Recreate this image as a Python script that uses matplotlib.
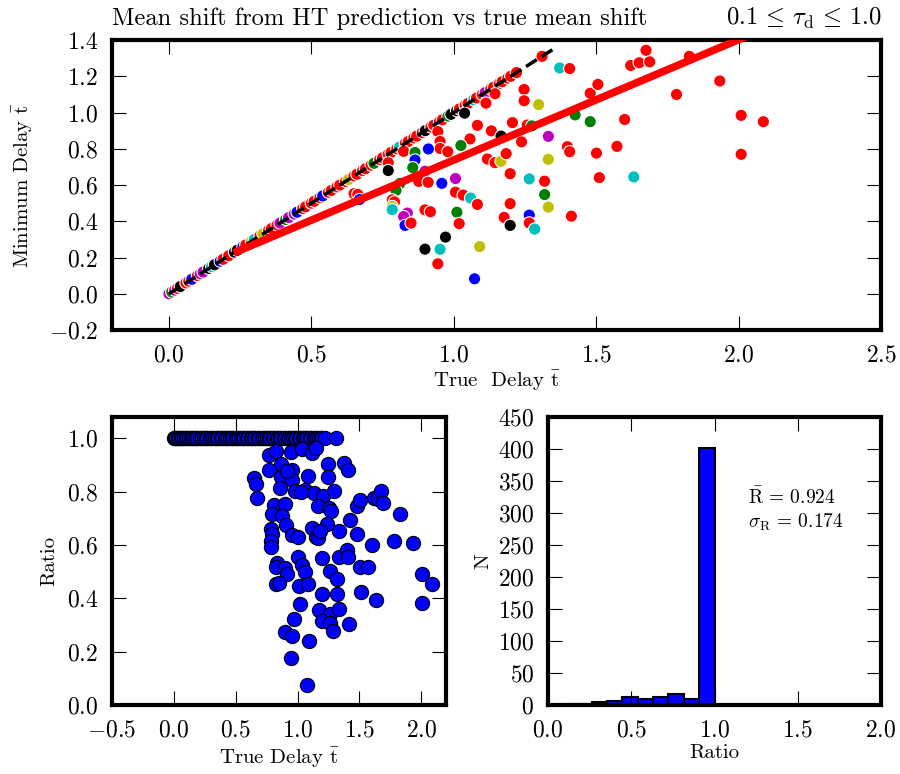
import numpy as np
import matplotlib
matplotlib.use("Agg")
from matplotlib import pyplot as plt

plt.rcParams['font.family'] = 'serif'
plt.rcParams['font.serif'] = ['cmr10']
plt.rcParams['mathtext.fontset'] = 'cm'
plt.rcParams['axes.formatter.use_mathtext'] = True

# runs where the HT minimum delay equals the true delay (ratio = 1)
diag_delay = [0.00, 0.01, 0.02, 0.03, 0.04, 0.06, 0.07, 0.08, 0.10, 0.11,
              0.12, 0.14, 0.15, 0.16, 0.18, 0.19, 0.21, 0.23, 0.24, 0.26,
              0.27, 0.29, 0.30, 0.32, 0.33, 0.35, 0.36, 0.38, 0.39, 0.41,
              0.42, 0.44, 0.45, 0.47, 0.48, 0.50, 0.51, 0.53, 0.54, 0.56,
              0.57, 0.59, 0.60, 0.62, 0.63, 0.65, 0.66, 0.68, 0.69, 0.71,
              0.72, 0.74, 0.75, 0.77, 0.78, 0.80, 0.81, 0.83, 0.84, 0.86,
              0.87, 0.89, 0.90, 0.92, 0.93, 0.95, 0.96, 0.98, 0.99, 1.01,
              1.02, 1.04, 1.05, 1.07, 1.08, 1.10, 1.11, 1.13, 1.14, 1.16,
              1.17, 1.19, 1.20, 1.22, 1.31]
diag_colors = ['m', 'g', 'm', 'r', 'k', 'r', 'r', 'b', 'r', 'm',
               'm', 'k', 'c', 'k', 'b', 'r', 'r', 'k', 'k', 'b',
               'r', 'y', 'c', 'r', 'y', 'r', 'r', 'r', 'm', 'g',
               'm', 'm', 'b', 'r', 'r', 'r', 'r', 'r', 'b', 'r',
               'r', 'r', 'r', 'r', 'y', 'r', 'r', 'r', 'r', 'r',
               'g', 'r', 'r', 'r', 'r', 'r', 'c', 'r', 'r', 'r',
               'r', 'r', 'k', 'r', 'r', 'r', 'r', 'g', 'k', 'k',
               'r', 'r', 'r', 'c', 'r', 'r', 'm', 'r', 'r', 'r',
               'r', 'r', 'r', 'r', 'r']

# runs where the HT prediction falls short of the true delay
true_delay = [0.770, 0.824, 0.944, 1.038, 1.113, 1.145, 0.864, 0.952,
              0.770, 1.247, 1.372, 1.407, 0.650, 0.663, 0.864, 0.952,
              1.083, 1.247, 0.669, 0.856, 0.979, 1.057, 1.132, 1.206,
              1.298, 0.811, 0.899, 1.166, 1.258, 1.274, 0.797, 0.877,
              0.910, 1.118, 1.238, 1.332, 1.426, 1.479, 1.506, 1.621,
              1.651, 1.675, 1.688, 1.827, 0.784, 0.792, 0.784, 0.784,
              0.958, 1.006, 1.145, 1.166, 1.479, 1.600, 1.782, 1.934,
              1.006, 1.033, 1.059, 1.198, 1.332, 1.399, 1.407, 0.837,
              0.824, 0.899, 0.918, 1.265, 1.319, 1.501, 1.573, 2.009,
              2.087, 0.829, 1.011, 1.083, 1.198, 1.319, 1.511, 1.632,
              2.009, 1.019, 1.177, 1.265, 1.332, 0.971, 1.198, 1.265,
              1.284, 1.413, 0.899, 0.952, 1.091, 0.944, 1.073, 0.850,
              1.025, 0.911, 1.184]
ratio = [0.939, 0.954, 0.948, 0.960, 0.945, 0.964, 0.902, 0.883,
         0.883, 0.904, 0.908, 0.883, 0.850, 0.827, 0.854, 0.842,
         0.858, 0.854, 0.777, 0.813, 0.801, 0.808, 0.794, 0.783,
         0.804, 0.751, 0.752, 0.746, 0.740, 0.727, 0.715, 0.707,
         0.676, 0.665, 0.677, 0.652, 0.692, 0.748, 0.767, 0.777,
         0.772, 0.802, 0.758, 0.717, 0.661, 0.640, 0.614, 0.592,
         0.636, 0.632, 0.632, 0.627, 0.642, 0.601, 0.617, 0.607,
         0.557, 0.527, 0.499, 0.553, 0.557, 0.580, 0.557, 0.532,
         0.517, 0.515, 0.493, 0.501, 0.471, 0.517, 0.517, 0.490,
         0.455, 0.455, 0.445, 0.455, 0.415, 0.415, 0.424, 0.395,
         0.383, 0.380, 0.358, 0.343, 0.359, 0.322, 0.315, 0.309,
         0.278, 0.303, 0.274, 0.258, 0.239, 0.175, 0.077, 0.459,
         0.798, 0.877, 0.653]
colors = ['r', 'r', 'r', 'k', 'r', 'r', 'g', 'r',
          'k', 'r', 'c', 'r', 'r', 'r', 'b', 'r',
          'r', 'r', 'b', 'g', 'r', 'r', 'r', 'r',
          'y', 'g', 'm', 'k', 'r', 'g', 'g', 'r',
          'r', 'r', 'r', 'm', 'g', 'r', 'r', 'r',
          'r', 'r', 'r', 'r', 'r', 'r', 'y', 'c',
          'b', 'm', 'r', 'y', 'g', 'r', 'r', 'r',
          'r', 'r', 'c', 'r', 'y', 'r', 'r', 'm',
          'm', 'r', 'r', 'c', 'r', 'r', 'r', 'r',
          'r', 'b', 'g', 'r', 'r', 'g', 'r', 'c',
          'r', 'r', 'r', 'b', 'y', 'k', 'k', 'r',
          'c', 'r', 'k', 'c', 'y', 'r', 'b', 'r',
          'g', 'b', 'r']

# linear fit of minimum delay against true delay
fit_slope = 0.664
fit_intercept = 0.074
fit_range = [0.24, 2.09]
one_to_one = [0.0, 1.36]

# histogram of the ratio
hist_edges = [0.077, 0.169, 0.262, 0.354, 0.446, 0.539, 0.631, 0.723,
              0.815, 0.908, 1.0]
hist_counts = [1, 2, 4, 6, 13, 10, 13, 17, 10, 402]
r_mean = 0.924
r_std = 0.174

all_true = np.array(diag_delay + true_delay)
all_ratio = np.array([1.0] * len(diag_delay) + ratio)
min_delay = all_true * all_ratio
all_colors = diag_colors + colors


def style_axes(ax):
    for s in ax.spines.values():
        s.set_linewidth(3)
    ax.tick_params(direction='in', length=10, width=0.8, pad=10,
                   top=True, right=True, labelsize=17)


fig = plt.figure(figsize=(9, 7.74), dpi=100)
ax1 = fig.add_axes([0.1244, 0.5736, 0.8545, 0.3747])
ax2 = fig.add_axes([0.1244, 0.0891, 0.3712, 0.3721])
ax3 = fig.add_axes([0.6089, 0.0891, 0.3700, 0.3721])

# top: minimum delay vs true delay
ax1.scatter(all_true, min_delay, s=78, c=all_colors, edgecolors='white',
            linewidths=0.8, zorder=2)
ax1.plot(one_to_one, one_to_one, 'k--', lw=2.5, zorder=3)
fx = np.array(fit_range)
ax1.plot(fx, fit_slope * fx + fit_intercept, 'r-', lw=5.5, zorder=4)
ax1.set_xlim(-0.2, 2.5)
ax1.set_ylim(-0.2, 1.4)
ax1.set_xticks(np.arange(0, 2.51, 0.5))
ax1.set_yticks(np.arange(-0.2, 1.41, 0.2))
ax1.set_xlabel(r'True  Delay $\bar{\rm t}$', fontsize=15, labelpad=2)
ax1.set_ylabel(r'Minimum Delay $\bar{\rm t}$', fontsize=15, labelpad=10)
ax1.set_title('Mean shift from HT prediction vs true mean shift',
              loc='left', fontsize=17.7, pad=11)
ax1.set_title(r'$0.1 \,\leq\, \tau_{\rm d} \,\leq\, 1.0$', loc='right',
              fontsize=17.7, pad=11)
style_axes(ax1)

# bottom left: ratio vs true delay
ax2.scatter(all_true, all_ratio, s=105, c='b', edgecolors='k',
            linewidths=0.8, zorder=2)
ax2.set_xlim(-0.5, 2.2)
ax2.set_ylim(0, 1.08)
ax2.set_xticks(np.arange(-0.5, 2.01, 0.5))
ax2.set_yticks(np.arange(0, 1.01, 0.2))
ax2.set_xlabel(r'True Delay $\bar{\rm t}$', fontsize=15, labelpad=3)
ax2.set_ylabel('Ratio', fontsize=15, labelpad=6)
style_axes(ax2)

# bottom right: histogram of ratio
ax3.bar(hist_edges[:-1], hist_counts, width=np.diff(hist_edges),
        align='edge', color='b', edgecolor='k', linewidth=1.5)
ax3.set_xlim(0, 2.0)
ax3.set_ylim(0, 450)
ax3.set_xticks(np.arange(0, 2.01, 0.5))
ax3.set_yticks(np.arange(0, 451, 50))
ax3.set_xlabel('Ratio', fontsize=15, labelpad=2)
ax3.set_ylabel('N', fontsize=15, labelpad=4)
ax3.text(1.2, 325, r'$\bar{\rm R} \,=\, %.3f$' % r_mean, fontsize=14,
         va='center')
ax3.text(1.2, 285, r'$\sigma_{\rm R} \,=\, %.3f$' % r_std, fontsize=14,
         va='center')
style_axes(ax3)

fig.savefig('out.png', dpi=100)
